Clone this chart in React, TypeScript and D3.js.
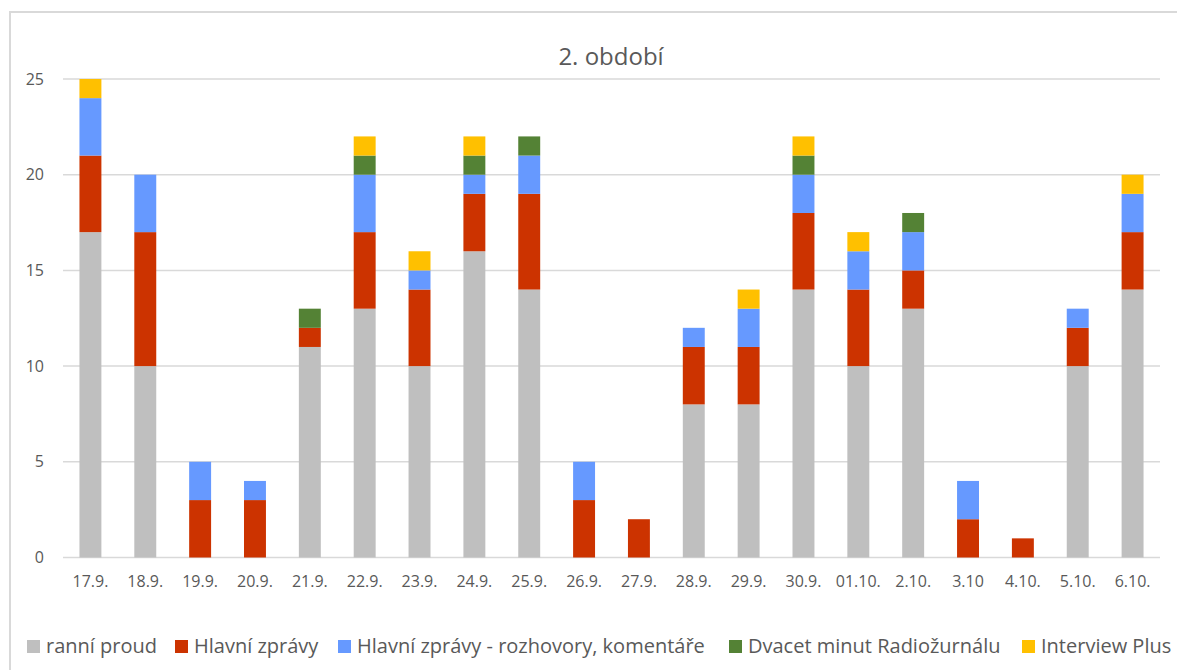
import React from "react";
import * as d3 from "d3";

const categories = ["17.9.", "18.9.", "19.9.", "20.9.", "21.9.", "22.9.", "23.9.", "24.9.", "25.9.", "26.9.", "27.9.", "28.9.", "29.9.", "30.9.", "01.10.", "2.10.", "3.10", "4.10.", "5.10.", "6.10."];
const ranniProud = [17, 10, 0, 0, 11, 13, 10, 16, 14, 0, 0, 8, 8, 14, 10, 13, 0, 0, 10, 14];
const hlavniZpravy = [4, 7, 3, 3, 1, 4, 4, 3, 5, 3, 2, 3, 3, 4, 4, 2, 2, 1, 2, 3];
const hlavniRozhovory = [3, 3, 2, 1, 0, 3, 1, 1, 2, 2, 0, 1, 2, 2, 2, 2, 2, 0, 1, 2];
const dvacetMinut = [0, 0, 0, 0, 1, 1, 0, 1, 1, 0, 0, 0, 0, 1, 0, 1, 0, 0, 0, 0];
const interviewPlus = [1, 0, 0, 0, 0, 1, 1, 1, 0, 0, 0, 0, 1, 1, 1, 0, 0, 0, 0, 1];
const seriesNames = ["ranní proud", "Hlavní zprávy", "Hlavní zprávy - rozhovory, komentáře", "Dvacet minut Radiožurnálu", "Interview Plus"];
const seriesColors = ["#BFBFBF", "#CC3300", "#6699FF", "#548235", "#FFC000"];
const yTicks = [0, 5, 10, 15, 20, 25];
const title = "2. období";

const FONT = "'Open Sans', sans-serif";
const TEXT = "#595959";
const GRID = "#D9D9D9";

export default function App() {
  const seriesValues = [ranniProud, hlavniZpravy, hlavniRozhovory, dvacetMinut, interviewPlus];
  const rows = categories.map((c, i) => {
    const r: any = { cat: c };
    seriesNames.forEach((s, k) => (r[s] = seriesValues[k][i]));
    return r;
  });
  const stacked = d3.stack<any>().keys(seriesNames)(rows);

  const x = d3.scaleBand<string>().domain(categories).range([63, 1160]).paddingInner(0.6).paddingOuter(0.3);
  const y = d3.scaleLinear().domain([0, 25]).range([557.5, 79]);

  const legendX = [27, 175, 338, 729, 1022];

  return (
    <div style={{ position: "absolute", left: 0, top: 0 }}>
      <svg width={1177} height={670} style={{ display: "block", fontFamily: FONT }}>
        <rect x={0} y={0} width={1177} height={670} fill="#fff" />
        <rect x={10} y={12} width={1200} height={700} fill="#fff" stroke={GRID} strokeWidth={2} />
        <text x={611} y={65} textAnchor="middle" fontSize={24} fill={TEXT}>{title}</text>
        {yTicks.map((t) => (
          <g key={t}>
            <line x1={63} x2={1160} y1={y(t)} y2={y(t)} stroke={GRID} strokeWidth={1.5} />
            <text x={44} y={y(t) + 5.5} textAnchor="end" fontSize={16} fill={TEXT}>{t}</text>
          </g>
        ))}
        {stacked.map((s, k) => (
          <g key={s.key} fill={seriesColors[k]}>
            {s.map((d, i) =>
              d[1] - d[0] > 0 ? (
                <rect key={i} x={x(categories[i])!} width={x.bandwidth()} y={y(d[1])} height={y(d[0]) - y(d[1])} />
              ) : null
            )}
          </g>
        ))}
        {categories.map((c) => (
          <text key={c} x={x(c)! + x.bandwidth() / 2} y={587} textAnchor="middle" fontSize={16} fill={TEXT}>{c}</text>
        ))}
        {seriesNames.map((s, k) => (
          <g key={s}>
            <rect x={legendX[k]} y={640} width={13} height={13} fill={seriesColors[k]} />
            <text x={legendX[k] + 19} y={653} fontSize={20} fill={TEXT}>{s}</text>
          </g>
        ))}
      </svg>
    </div>
  );
}
